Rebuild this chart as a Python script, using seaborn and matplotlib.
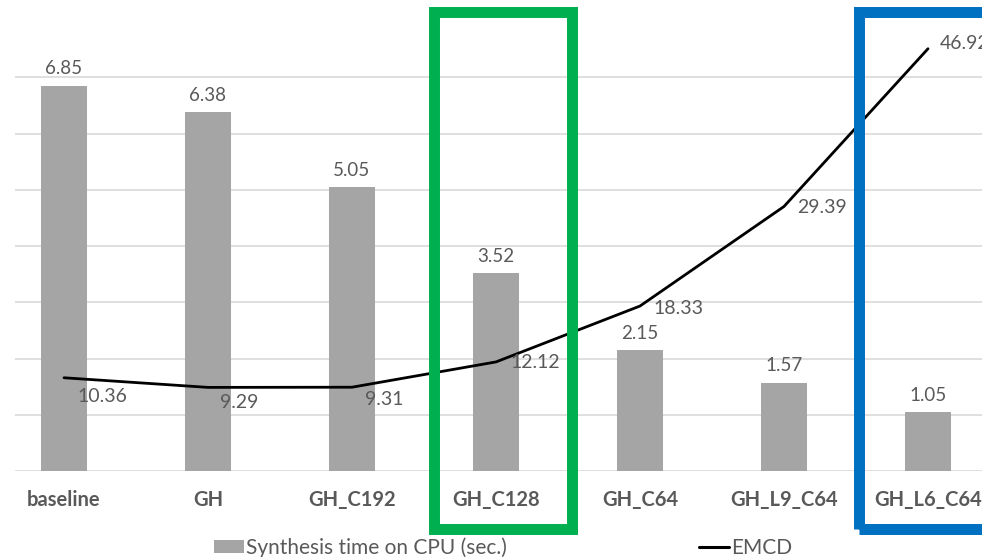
import numpy as np
import pandas as pd
import matplotlib
matplotlib.use("Agg")
import matplotlib.pyplot as plt
from matplotlib.patches import Rectangle, Patch
from matplotlib.lines import Line2D
import seaborn as sns

# Model variants and their measurements
variants = ["baseline", "GH", "GH_C192", "GH_C128", "GH_C64", "GH_L9_C64", "GH_L6_C64"]
synth_time = [6.85, 6.38, 5.05, 3.52, 2.15, 1.57, 1.05]
emcd = [10.36, 9.29, 9.31, 12.12, 18.33, 29.39, 46.92]

sns.set_theme(style="white")
plt.rcParams["font.family"] = ["Lato", "DejaVu Sans"]

TEXT = "#595959"
BAR = "#A5A5A5"
GRID = "#D9D9D9"

W, H = 982, 557
fig = plt.figure(figsize=(W / 100, H / 100), dpi=100)

# plot area in pixel units (left edge, baseline, top)
px_left, px_base, px_top = 15, 471, 21
ax = fig.add_axes([px_left / W, (H - px_base) / H, 1 - px_left / W, (px_base - px_top) / H])

df = pd.DataFrame({"variant": variants, "time": synth_time, "emcd": emcd})
sns.barplot(data=df, x="variant", y="time", color=BAR, width=0.32,
            saturation=1, ax=ax, zorder=2)
for p in ax.patches:
    p.set_edgecolor("none")

ax.set_ylim(0, 8)
ax.set_yticks(range(0, 8))
ax.set_yticklabels([])
ax.tick_params(axis="y", length=0)
ax.grid(axis="y", color=GRID, linewidth=1.2, zorder=0)
ax.set_axisbelow(True)
for s in ax.spines.values():
    s.set_visible(False)
ax.set_xlabel("")
ax.set_ylabel("")
ax.set_xlim((px_left - 64) / 144, (W - 64) / 144)
ax.tick_params(axis="x", length=0, pad=14)
for lbl in ax.get_xticklabels():
    lbl.set_fontweight("bold")
    lbl.set_color(TEXT)
    lbl.set_fontsize(14.5)

ax.bar_label(ax.containers[0], labels=[f"{v:.2f}" for v in synth_time],
             padding=6, color=TEXT, fontsize=13.5)

# EMCD on a hidden secondary scale
ax2 = ax.twinx()
sns.lineplot(x=np.arange(len(variants)), y=emcd, color="black", linewidth=2,
             ax=ax2, zorder=3)
ax2.set_ylim(0, 50)
ax2.set_yticks([])
for s in ax2.spines.values():
    s.set_visible(False)
ax2.set_xlim(ax.get_xlim())

label_offsets = [(13, -19), (12, -15), (13, -12), (14, -1), (13, -2), (13, -1), (12, 5)]
for i, (v, off) in enumerate(zip(emcd, label_offsets)):
    ax2.annotate(f"{v:.2f}", (i, v), xytext=off, textcoords="offset pixels",
                 ha="left", va="center", color=TEXT, fontsize=14,
                 annotation_clip=False)

# highlight frames
def frame(x0, x1, y0, y1, color):
    fig.patches.append(Rectangle((x0 / W, (H - y1) / H), (x1 - x0) / W, (y1 - y0) / H,
                                 transform=fig.transFigure, fill=False,
                                 edgecolor=color, linewidth=7.9, zorder=10))

frame(433.5, 572, 12, 528.5, "#00B050")
frame(859, 1000, 12, 528.5, "#0070C0")

handles = [Patch(facecolor=BAR, edgecolor="none"),
           Line2D([], [], color="black", linewidth=2.2)]
fig.legend(handles, ["Synthesis time on CPU (sec.)", "EMCD"], ncol=2,
           loc="upper left", bbox_to_anchor=(214 / W, (H - 537) / H),
           frameon=False, fontsize=15, labelcolor=TEXT,
           handlelength=1.45, handleheight=0.6, handletextpad=0.1,
           columnspacing=9.2, borderaxespad=0, borderpad=0)

fig.savefig("out.png", dpi=100)
